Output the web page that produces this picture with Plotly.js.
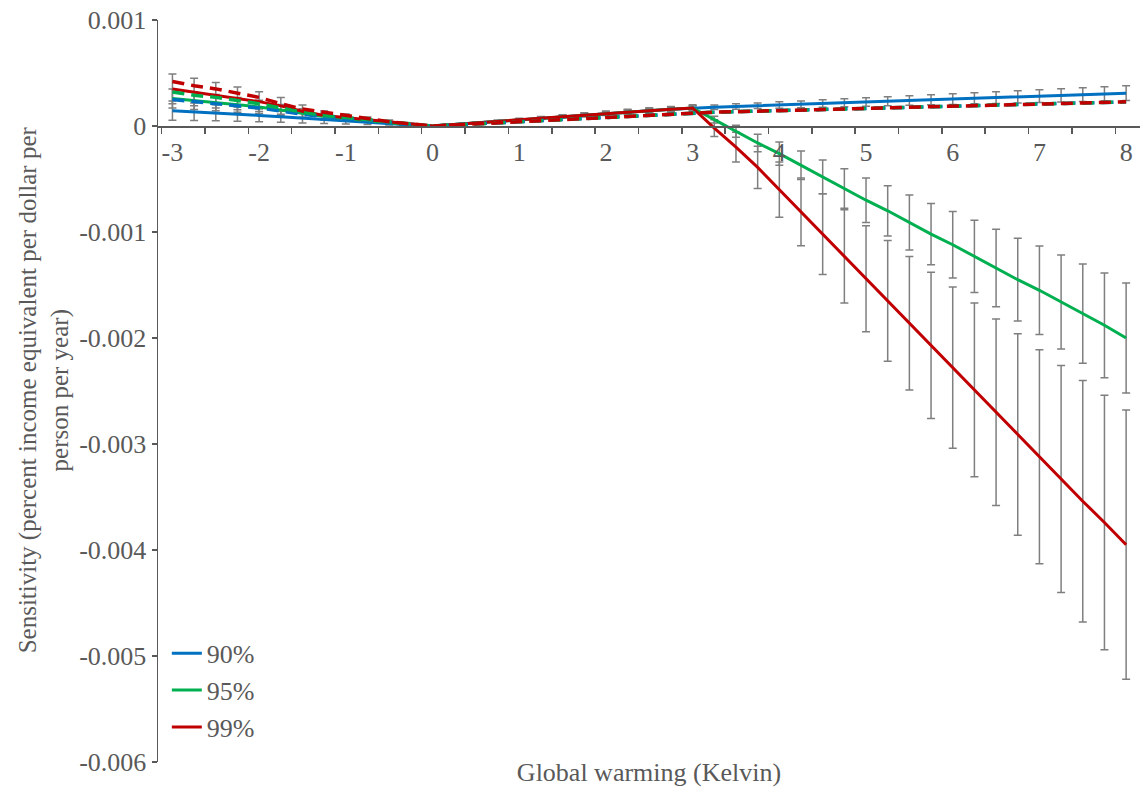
<!DOCTYPE html>
<html>
<head>
<meta charset="utf-8">
<script src="https://cdn.plot.ly/plotly-3.0.1.min.js"></script>
<style>html,body{margin:0;padding:0;background:#fff;}#chart{width:1144px;height:787px;}</style>
</head>
<body>
<div id="chart"></div>
<script>
// Global warming (Kelvin)
var warming = [-3,-2.75,-2.5,-2.25,-2,-1.75,-1.5,-1.25,-1,-0.75,-0.5,-0.25,0,
  0.25,0.5,0.75,1,1.25,1.5,1.75,2,2.25,2.5,2.75,3,
  3.25,3.5,3.75,4,4.25,4.5,4.75,5,5.25,5.5,5.75,6,6.25,6.5,6.75,7,7.25,7.5,7.75,8];

// Solid series (legend)
var s90 = [0.000145,0.000135,0.000125,0.000112,0.0001,0.000087,0.000073,0.00006,0.000048,0.000035,0.000022,0.00001,0,
  0.000015,0.00003,0.000045,0.00006,0.000075,0.00009,0.000105,0.00012,0.000133,0.000145,0.000157,0.00017,
  0.000177,0.000184,0.000191,0.000198,0.000205,0.000212,0.000219,0.000226,0.000233,0.00024,0.000247,0.000254,0.000261,0.000268,0.000275,0.000282,0.000289,0.000296,0.000303,0.00031];
var s95 = [0.00026,0.00024,0.00022,0.0002,0.00018,0.00015,0.00012,0.00009,0.00007,0.00005,0.00003,0.00001,0,
  0.000015,0.00003,0.000045,0.00006,0.000075,0.00009,0.000105,0.00012,0.000133,0.000145,0.000157,0.00017,
  0.00006,-0.00005,-0.00016,-0.00026,-0.00037,-0.00048,-0.00059,-0.0007,-0.0008,-0.00091,-0.00102,-0.00112,-0.00123,-0.00134,-0.00145,-0.00155,-0.00166,-0.00177,-0.00188,-0.002];
var s99 = [0.00035,0.00032,0.00029,0.00026,0.00023,0.00019,0.00014,0.0001,0.00008,0.00006,0.00004,0.00002,0,
  0.000015,0.00003,0.000045,0.00006,0.000075,0.00009,0.000105,0.00012,0.000133,0.000145,0.000157,0.00017,
  -0.00002,-0.0002,-0.00039,-0.0006,-0.00081,-0.00102,-0.00123,-0.00144,-0.00165,-0.00186,-0.00207,-0.00228,-0.00249,-0.0027,-0.00291,-0.00312,-0.00333,-0.00354,-0.00374,-0.00395];

// Error bar half-widths for the solid series
var e90 = [0.00009,0.000082,0.000075,0.000068,0.00006,0.000052,0.000044,0.000036,0.000029,0.000021,0.000013,0.000006,0,
  0.000002,0.000004,0.000006,0.000008,0.00001,0.000012,0.000013,0.000015,0.000016,0.000017,0.000019,0.00002,
  0.000022,0.000025,0.000027,0.00003,0.000032,0.000035,0.000037,0.00004,0.000042,0.000045,0.000047,0.00005,0.000052,0.000055,0.000058,0.00006,0.000063,0.000065,0.000068,0.00007];
var e95 = [0.00009,0.000084,0.000077,0.00007,0.000063,0.000052,0.000042,0.000032,0.000025,0.000018,0.00001,0.000004,0,
  0.000002,0.000004,0.000006,0.000008,0.00001,0.000012,0.000013,0.000015,0.000016,0.000017,0.000019,0.00002,
  0.000032,0.000057,0.000083,0.00011,0.000134,0.00016,0.000186,0.00021,0.000237,0.00026,0.000288,0.000314,0.00034,0.000365,0.00039,0.000417,0.000443,0.000468,0.000494,0.00052];
var e99 = [0.00014,0.00013,0.00012,0.000107,0.000094,0.000078,0.000057,0.000041,0.000033,0.000025,0.000016,0.000008,0,
  0.000003,0.000006,0.000009,0.000012,0.000014,0.000017,0.00002,0.000022,0.000024,0.000026,0.000028,0.00003,
  0.00008,0.00014,0.0002,0.00026,0.00032,0.00038,0.00044,0.0005,0.00057,0.00063,0.00069,0.00076,0.00082,0.00088,0.00095,0.00101,0.00107,0.00114,0.0012,0.00127];

// Dashed series (no legend entry)
var d90 = [0.00025,0.00023,0.00021,0.00019,0.00017,0.00014,0.00011,0.00009,0.00007,0.00005,0.00003,0.00001,0,
  0.00001,0.00002,0.00003,0.00004,0.000052,0.000064,0.000076,0.000088,0.000098,0.000108,0.000117,0.000126,
  0.00013,0.000135,0.00014,0.000145,0.00015,0.000156,0.000162,0.000168,0.000173,0.000178,0.000183,0.000188,0.000193,0.000198,0.000203,0.000208,0.000213,0.000218,0.000223,0.000228];
var d95 = [0.00032,0.00029,0.00027,0.00024,0.00021,0.00017,0.00013,0.0001,0.00008,0.00006,0.00004,0.00002,0,
  0.00001,0.00002,0.00003,0.00004,0.000052,0.000064,0.000076,0.000088,0.000098,0.000108,0.000117,0.000126,
  0.00013,0.000135,0.00014,0.000145,0.00015,0.000156,0.000162,0.000168,0.000173,0.000178,0.000183,0.000188,0.000193,0.000198,0.000203,0.000208,0.000213,0.000218,0.000223,0.000228];
var d99 = [0.00042,0.00038,0.00035,0.00031,0.00027,0.00021,0.00016,0.00013,0.0001,0.00007,0.00004,0.00002,0,
  0.00001,0.00002,0.00003,0.00004,0.000052,0.000064,0.000076,0.000088,0.000098,0.000108,0.000117,0.000126,
  0.00013,0.000135,0.00014,0.000145,0.00015,0.000156,0.000162,0.000168,0.000173,0.000178,0.000183,0.000188,0.000193,0.000198,0.000203,0.000208,0.000213,0.000218,0.000223,0.000228];

var seriesNames = ['90%','95%','99%'];
var xTickVals = [-3,-2,-1,0,1,2,3,4,5,6,7,8];
var xTickText = ['-3','-2','-1','0','1','2','3','4','5','6','7','8'];
var yTickVals = [0.001,0,-0.001,-0.002,-0.003,-0.004,-0.005,-0.006];
var yTickText = ['0.001','0','-0.001','-0.002','-0.003','-0.004','-0.005','-0.006'];
var xTitle = 'Global warming (Kelvin)';
var yTitle = 'Sensitivity (percent income equivalent per dollar per<br>person per year)';

var BLUE = '#0070C0', GREEN = '#00B050', RED = '#C00000';
var GREY = '#595959';
var FONT = 'Liberation Serif';

function errTrace(y, e) {
  return {x: warming, y: y, xaxis: 'x', yaxis: 'y', type: 'scatter', mode: 'markers',
    marker: {size: 2, opacity: 0}, showlegend: false, hoverinfo: 'skip',
    error_y: {type: 'data', array: e, visible: true, color: '#7f7f7f', thickness: 1.5, width: 4}};
}
function lineTrace(y, color, dash, name, legend) {
  return {x: warming, y: y, xaxis: 'x2', yaxis: 'y', type: 'scatter', mode: 'lines', name: name,
    legendgroup: name + (legend ? '' : 'd'), showlegend: legend,
    line: {color: color, width: legend ? 3 : 3.5, dash: dash}};
}

var data = [
  errTrace(s90, e90), errTrace(s95, e95), errTrace(s99, e99),
  lineTrace(s90, BLUE, 'solid', seriesNames[0], true),
  lineTrace(s95, GREEN, 'solid', seriesNames[1], true),
  lineTrace(s99, RED, 'solid', seriesNames[2], true),
  lineTrace(d90, BLUE, '12px,7px', seriesNames[0], false),
  lineTrace(d95, GREEN, '12px,7px', seriesNames[1], false),
  lineTrace(d99, RED, '12px,7px', seriesNames[2], false)
];

var XR = [-3.1665, 8.16];
var layout = {
  width: 1144, height: 787,
  margin: {l: 158, r: 4, t: 20, b: 25},
  paper_bgcolor: '#fff', plot_bgcolor: '#fff',
  font: {family: FONT, size: 26, color: GREY},
  showlegend: true,
  legend: {x: 0.009, y: 0.178, xanchor: 'left', yanchor: 'top', bgcolor: 'rgba(0,0,0,0)',
    font: {family: FONT, size: 26, color: GREY}, traceorder: 'grouped', tracegroupgap: 0},
  xaxis: {range: XR, showline: false, showgrid: false, zeroline: false, ticks: '', showticklabels: false,
    title: {text: xTitle, font: {family: FONT, size: 26, color: GREY}, standoff: 0}},
  xaxis2: {range: XR, overlaying: 'x', anchor: 'free', position: 6/7, side: 'bottom',
    showline: true, linecolor: GREY, linewidth: 1.5, showgrid: false, zeroline: false,
    tickmode: 'array', tickvals: xTickVals, ticktext: xTickText, ticks: '',
    ticklabelstandoff: 2,
    tickfont: {family: FONT, size: 26, color: GREY},
    minor: {tick0: -3.125, dtick: 0.5, ticks: 'outside', ticklen: 6, tickwidth: 1.5, tickcolor: GREY, showgrid: false}},
  yaxis: {range: [-0.006, 0.001], showline: true, linecolor: GREY, linewidth: 1.5, showgrid: false, zeroline: false,
    tickmode: 'array', tickvals: yTickVals, ticktext: yTickText, ticks: 'outside', ticklen: 5, tickwidth: 1.5, tickcolor: GREY,
    tickfont: {family: FONT, size: 26, color: GREY}},
  annotations: [{
    text: yTitle, xref: 'paper', yref: 'paper', x: -0.116, y: 0.501, xanchor: 'center', yanchor: 'middle',
    textangle: -90, showarrow: false, align: 'center',
    font: {family: FONT, size: 25, color: GREY}
  }]
};

Plotly.newPlot('chart', data, layout, {staticPlot: true, displayModeBar: false});
</script>
</body>
</html>
